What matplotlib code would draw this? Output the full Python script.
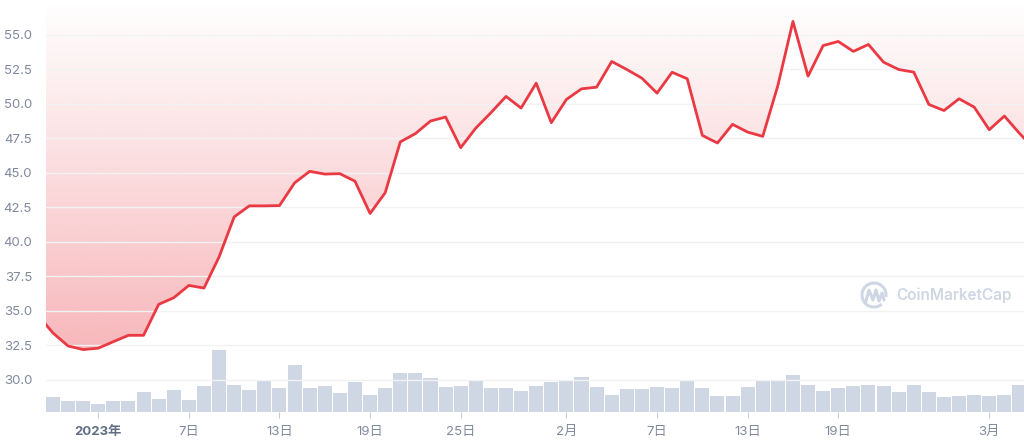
import numpy as np
import pandas as pd
import matplotlib
matplotlib.use("Agg")
import matplotlib.pyplot as plt
import matplotlib.dates as mdates
from matplotlib.patches import Arc

# price series, one point per day starting 2022-12-28
price_start = "2022-12-28"
prices = [34.7, 33.4, 32.46, 32.2,
          32.3, 32.77, 33.23, 33.23, 35.47, 35.95, 36.84, 36.65, 38.9, 41.8,
          42.6, 42.6, 42.62, 44.26, 45.1, 44.9, 44.93, 44.38, 42.05, 43.55,
          47.23, 47.83, 48.74, 49.03, 46.81, 48.23, 49.34, 50.52, 49.68, 51.48,
          48.62,
          50.3, 51.07, 51.19, 53.05, 52.47, 51.84, 50.76, 52.27, 51.8, 47.7,
          47.15, 48.5, 47.94, 47.63, 51.3, 55.95, 51.99, 54.2, 54.5, 53.78,
          54.28, 53.0, 52.47, 52.28, 49.94, 49.5, 50.35, 49.75,
          48.11, 49.1, 47.85, 46.7]

# daily volume (millions), starting 2022-12-29
vol_start = "2022-12-29"
volumes = [150, 113, 107,
           83, 113, 113, 197, 130, 223, 123, 263, 623, 273, 223, 323, 240,
           473, 240, 260, 193, 297, 170, 237, 390, 390, 340, 250, 257, 313,
           237, 237, 213, 257, 303,
           320, 353, 247, 173, 230, 230, 253, 237, 320, 237, 157, 163, 247,
           320, 320, 370, 273, 213, 237, 260, 267, 260, 200, 273, 200, 147,
           163, 170,
           163, 170, 273]

tick_dates = ["2023-01-01", "2023-01-07", "2023-01-13", "2023-01-19", "2023-01-25",
              "2023-02-01", "2023-02-07", "2023-02-13", "2023-02-19", "2023-03-01"]
tick_labels = ["2023年", "7日", "13日", "19日", "25日", "2月", "7日", "13日", "19日", "3月"]
y_ticks = [30.0, 32.5, 35.0, 37.5, 40.0, 42.5, 45.0, 47.5, 50.0, 52.5, 55.0]

LINE = "#ea3943"
BAR = "#cfd6e4"
TXT = "#808a9d"
FONT = ["Inter", "Noto Sans CJK JP", "DejaVu Sans"]
plt.rcParams["font.family"] = FONT

px = mdates.date2num(pd.date_range(price_start, periods=len(prices), freq="D"))
vx = mdates.date2num(pd.date_range(vol_start, periods=len(volumes), freq="D"))
x0 = vx[0] - 0.46
x1 = vx[-1] + 0.3
ylo, yhi = 27.68, 57.5

fig = plt.figure(figsize=(10.24, 4.41), dpi=100)
rect = [46 / 1024, 29 / 441, 1 - 46 / 1024, 1 - 29 / 441]

# volume bars underneath
axb = fig.add_axes(rect)
axb.bar(vx, volumes, width=0.93, color=BAR, edgecolor="none", zorder=1)
axb.set_xlim(x0, x1)
axb.set_ylim(0, 4120)
axb.axis("off")

# price line on top
ax = fig.add_axes(rect)
ax.patch.set_alpha(0)
ax.set_xlim(x0, x1)
ax.set_ylim(ylo, yhi)

# gradient fill above the line
grad = np.linspace(0, 1, 256)[:, None]
alpha = np.clip(0.36 * (yhi - (ylo + (yhi - ylo) * grad)) / (yhi - 32.2), 0, 0.36)
img = np.zeros((256, 1, 4))
img[..., 0] = 234 / 255
img[..., 1] = 57 / 255
img[..., 2] = 67 / 255
img[..., 3] = alpha
im = ax.imshow(img, extent=[x0, x1, ylo, yhi], origin="lower", aspect="auto", zorder=1)
poly = ax.fill_between(px, prices, yhi, facecolor="none", edgecolor="none")
im.set_clip_path(poly.get_paths()[0], transform=ax.transData)

ax.plot(px, prices, color=LINE, lw=2, zorder=3, solid_joinstyle="round")

ax.set_yticks(y_ticks)
ax.set_yticklabels([f"{v:.1f}" for v in y_ticks])
ax.grid(axis="y", color="#f2f2f4", lw=1, zorder=0)
ax.set_xticks(mdates.date2num(pd.to_datetime(tick_dates)))
ax.set_xticklabels(tick_labels)
ax.tick_params(axis="y", length=0, pad=10, labelsize=9.5, labelcolor=TXT)
ax.tick_params(axis="x", length=4, color="#c8ccd4", pad=6, labelsize=9.5, labelcolor=TXT)
ax.get_xticklabels()[0].set_fontweight("bold")
ax.get_xticklabels()[0].set_color("#616e85")
for s in ax.spines.values():
    s.set_visible(False)

# watermark
fig.add_artist(Arc((874 / 1024, 1 - 295 / 441), 24 / 1024, 24 / 441, theta1=-20, theta2=290,
                   transform=fig.transFigure, color=BAR, lw=2.2))
wx = np.array([866, 869, 873, 876, 879, 882, 884]) / 1024
wy = 1 - np.array([301, 290, 300, 290, 301, 293, 300]) / 441
fig.add_artist(plt.Line2D(wx, wy, transform=fig.transFigure, color=BAR, lw=2.2,
                          solid_joinstyle="round", solid_capstyle="round"))
fig.text(896 / 1024, 1 - 295 / 441, "CoinMarketCap", color=BAR, fontsize=11,
         fontweight="semibold", va="center", ha="left")

fig.savefig("out.png", dpi=100)
